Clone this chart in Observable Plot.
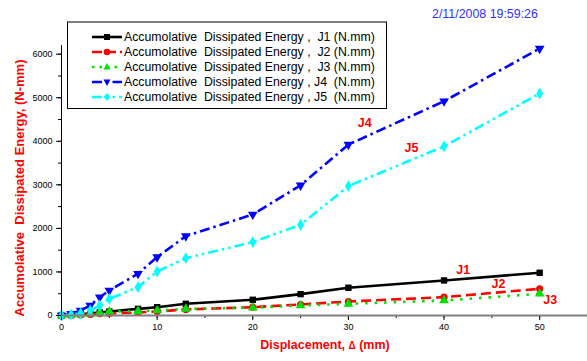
<!DOCTYPE html>
<html><head><meta charset="utf-8">
<script src="https://cdn.jsdelivr.net/npm/d3@7"></script>
<script src="https://cdn.jsdelivr.net/npm/@observablehq/plot@0.6"></script>
<style>
body{margin:0;background:#fff;font-family:"Liberation Sans",Arial,sans-serif;}
#wrap{position:relative;width:587px;height:361px;overflow:hidden;}
#date{position:absolute;left:432px;top:7px;font-size:12.4px;color:#3030ff;}
#legend{position:absolute;left:67px;top:21px;width:318px;height:85px;border:1px solid #000;border-top:2px solid #808080;background:#fff;}
.row{position:absolute;left:24px;height:15px;display:flex;align-items:center;font-size:12.3px;white-space:pre;}
.row svg{margin-right:2px}
#xlab{position:absolute;left:0;width:650px;top:338px;text-align:center;color:#ff0000;font-weight:bold;font-size:12.5px;}
#ylab{position:absolute;left:19px;top:188px;transform:translate(-50%,-50%) rotate(-90deg);white-space:pre;color:#ff0000;font-weight:bold;font-size:13px;}
</style></head>
<body><div id="wrap"></div>
<script>
const xs = [0,1,2,3,4,5,8,10,13,20,25,30,40,50];
const J1 = [0,10,30,50,69,92,153,191,269,361,490,637,805,981];
const J2 = [0,5,15,25,40,46,69,92,138,191,253,322,421,614];
const J3 = [0,10,25,40,69,92,99,115,150,177,230,268,345,499];
const J4 = [0,40,115,230,420,575,960,1340,1823,2320,2990,3925,4920,6130];
const J5 = [0,20,46,115,230,383,651,1011,1318,1685,2085,2972,3885,5097];
const seriesNames = ["J1","J2","J3","J4","J5"];
const legendTexts = [
  "Accumolative  Dissipated Energy ,  J1 (N.mm)",
  "Accumolative  Dissipated Energy ,  J2 (N.mm)",
  "Accumolative  Dissipated Energy ,  J3 (N.mm)",
  "Accumolative  Dissipated Energy , J4  (N.mm)",
  "Accumolative  Dissipated Energy , J5  (N.mm)"
];
const labelNames = ["J4","J5","J1","J2","J3"];
const labelX = [31.7,36.6,42,45.7,51.1];
const labelY = [4414,3839,1034,713,360];
const xTicks = [0,10,20,30,40,50];
const yTicks = [0,1000,2000,3000,4000,5000,6000];
const dateText = "2/11/2008 19:59:26";
const xTitle = "Displacement, ";
const yTitle = "Accumolative  Dissipated Energy, (N-mm)";

const colors = ["#000000","#ff0000","#00e000","#0000ff","#00ffff"];
const dashes = [null,"10,5","2.5,7","10,4,2.5,4","10,4,2.5,4,2.5,4"];
const triDown = {draw(c, size){const y=-Math.sqrt(size/(Math.sqrt(3)*3)); c.moveTo(0,-y*2); c.lineTo(-Math.sqrt(3)*y,y); c.lineTo(Math.sqrt(3)*y,y); c.closePath();}};
const symbols = ["square","circle","triangle",triDown,"diamond"];
const vals = [J1,J2,J3,J4,J5];

const data = [];
seriesNames.forEach((s,i)=>xs.forEach((x,j)=>data.push({s, x, y: vals[i][j]})));
const labels = labelNames.map((t,i)=>({t, x: labelX[i], y: labelY[i]}));

const marks = [];
seriesNames.forEach((s,i)=>{
  const d = data.filter(e=>e.s===s);
  marks.push(Plot.line(d,{x:"x",y:"y",stroke:colors[i],strokeWidth:2.6,strokeDasharray:dashes[i],strokeLinecap:"butt"}));
});
seriesNames.forEach((s,i)=>{
  const d = data.filter(e=>e.s===s);
  marks.push(Plot.dot(d,{x:"x",y:"y",fill:colors[i],stroke:null,symbol:()=>symbols[i],r:3.6}));
});
const fmt = d3.format("d");
marks.push(Plot.axisX({ticks:d3.range(0,56,5),tickSize:3,text:null,label:null,stroke:"#000"}));
marks.push(Plot.axisX({ticks:xTicks,tickSize:5,tickPadding:3,tickFormat:fmt,label:null,fontSize:9,stroke:"#000"}));
marks.push(Plot.axisY({ticks:d3.range(0,6201,500),tickSize:3,text:null,label:null,stroke:"#000"}));
marks.push(Plot.axisY({ticks:yTicks,tickSize:5,tickPadding:4,tickFormat:fmt,label:null,fontSize:9,stroke:"#000"}));
marks.push(Plot.ruleY([0],{stroke:"#808080",strokeWidth:2}));
marks.push(Plot.ruleX([0],{stroke:"#000",strokeWidth:1}));
marks.push(Plot.text(labels,{x:"x",y:"y",text:"t",fill:"#ff0000",fontWeight:"bold",fontSize:12.5}));

const chart = Plot.plot({
  width:587,height:361,
  marginLeft:61,marginRight:0,marginTop:45,marginBottom:46,
  style:{fontFamily:"Liberation Sans, Arial, sans-serif",background:"#fff",color:"#000",overflow:"visible"},
  x:{domain:[0,55]},
  y:{domain:[0,6200]},
  marks
});
const wrap = document.getElementById("wrap");
wrap.appendChild(chart);

const date = document.createElement("div"); date.id="date"; date.textContent=dateText; wrap.appendChild(date);
const xl = document.createElement("div"); xl.id="xlab";
xl.appendChild(document.createTextNode(xTitle));
const dl = document.createElement("span"); dl.textContent="\u0394"; dl.style.fontSize="10px"; xl.appendChild(dl);
xl.appendChild(document.createTextNode(" (mm)"));
wrap.appendChild(xl);
const yl = document.createElement("div"); yl.id="ylab"; yl.textContent=yTitle; wrap.appendChild(yl);

const lg = document.createElement("div"); lg.id="legend"; wrap.appendChild(lg);
const symPaths = ["M-3,-3h6v6h-6z", null, "M0,-4L3.5,2.5L-3.5,2.5Z", "M0,4L3.5,-2.5L-3.5,-2.5Z", "M0,-4L3.5,0L0,4L-3.5,0Z"];
legendTexts.forEach((t,i)=>{
  const r = document.createElement("div"); r.className="row"; r.style.top=(6+i*15.2)+"px";
  const ns="http://www.w3.org/2000/svg";
  const sv = document.createElementNS(ns,"svg"); sv.setAttribute("width","30"); sv.setAttribute("height","10");
  const ln = document.createElementNS(ns,"line");
  ln.setAttribute("x1","0");ln.setAttribute("x2","30");ln.setAttribute("y1","5");ln.setAttribute("y2","5");
  ln.setAttribute("stroke",colors[i]);ln.setAttribute("stroke-width","2.6");
  if(dashes[i]) ln.setAttribute("stroke-dasharray", i===2?"2.5,5": i===1?"10,4": dashes[i]);
  sv.appendChild(ln);
  let m;
  if(symPaths[i]){ m=document.createElementNS(ns,"path"); m.setAttribute("d",symPaths[i]); m.setAttribute("transform","translate(15,5)"); }
  else { m=document.createElementNS(ns,"circle"); m.setAttribute("cx","15");m.setAttribute("cy","5");m.setAttribute("r","3.3"); }
  m.setAttribute("fill",colors[i]); sv.appendChild(m);
  r.appendChild(sv);
  const sp=document.createElement("span"); sp.textContent=t; r.appendChild(sp);
  lg.appendChild(r);
});
</script></body></html>
